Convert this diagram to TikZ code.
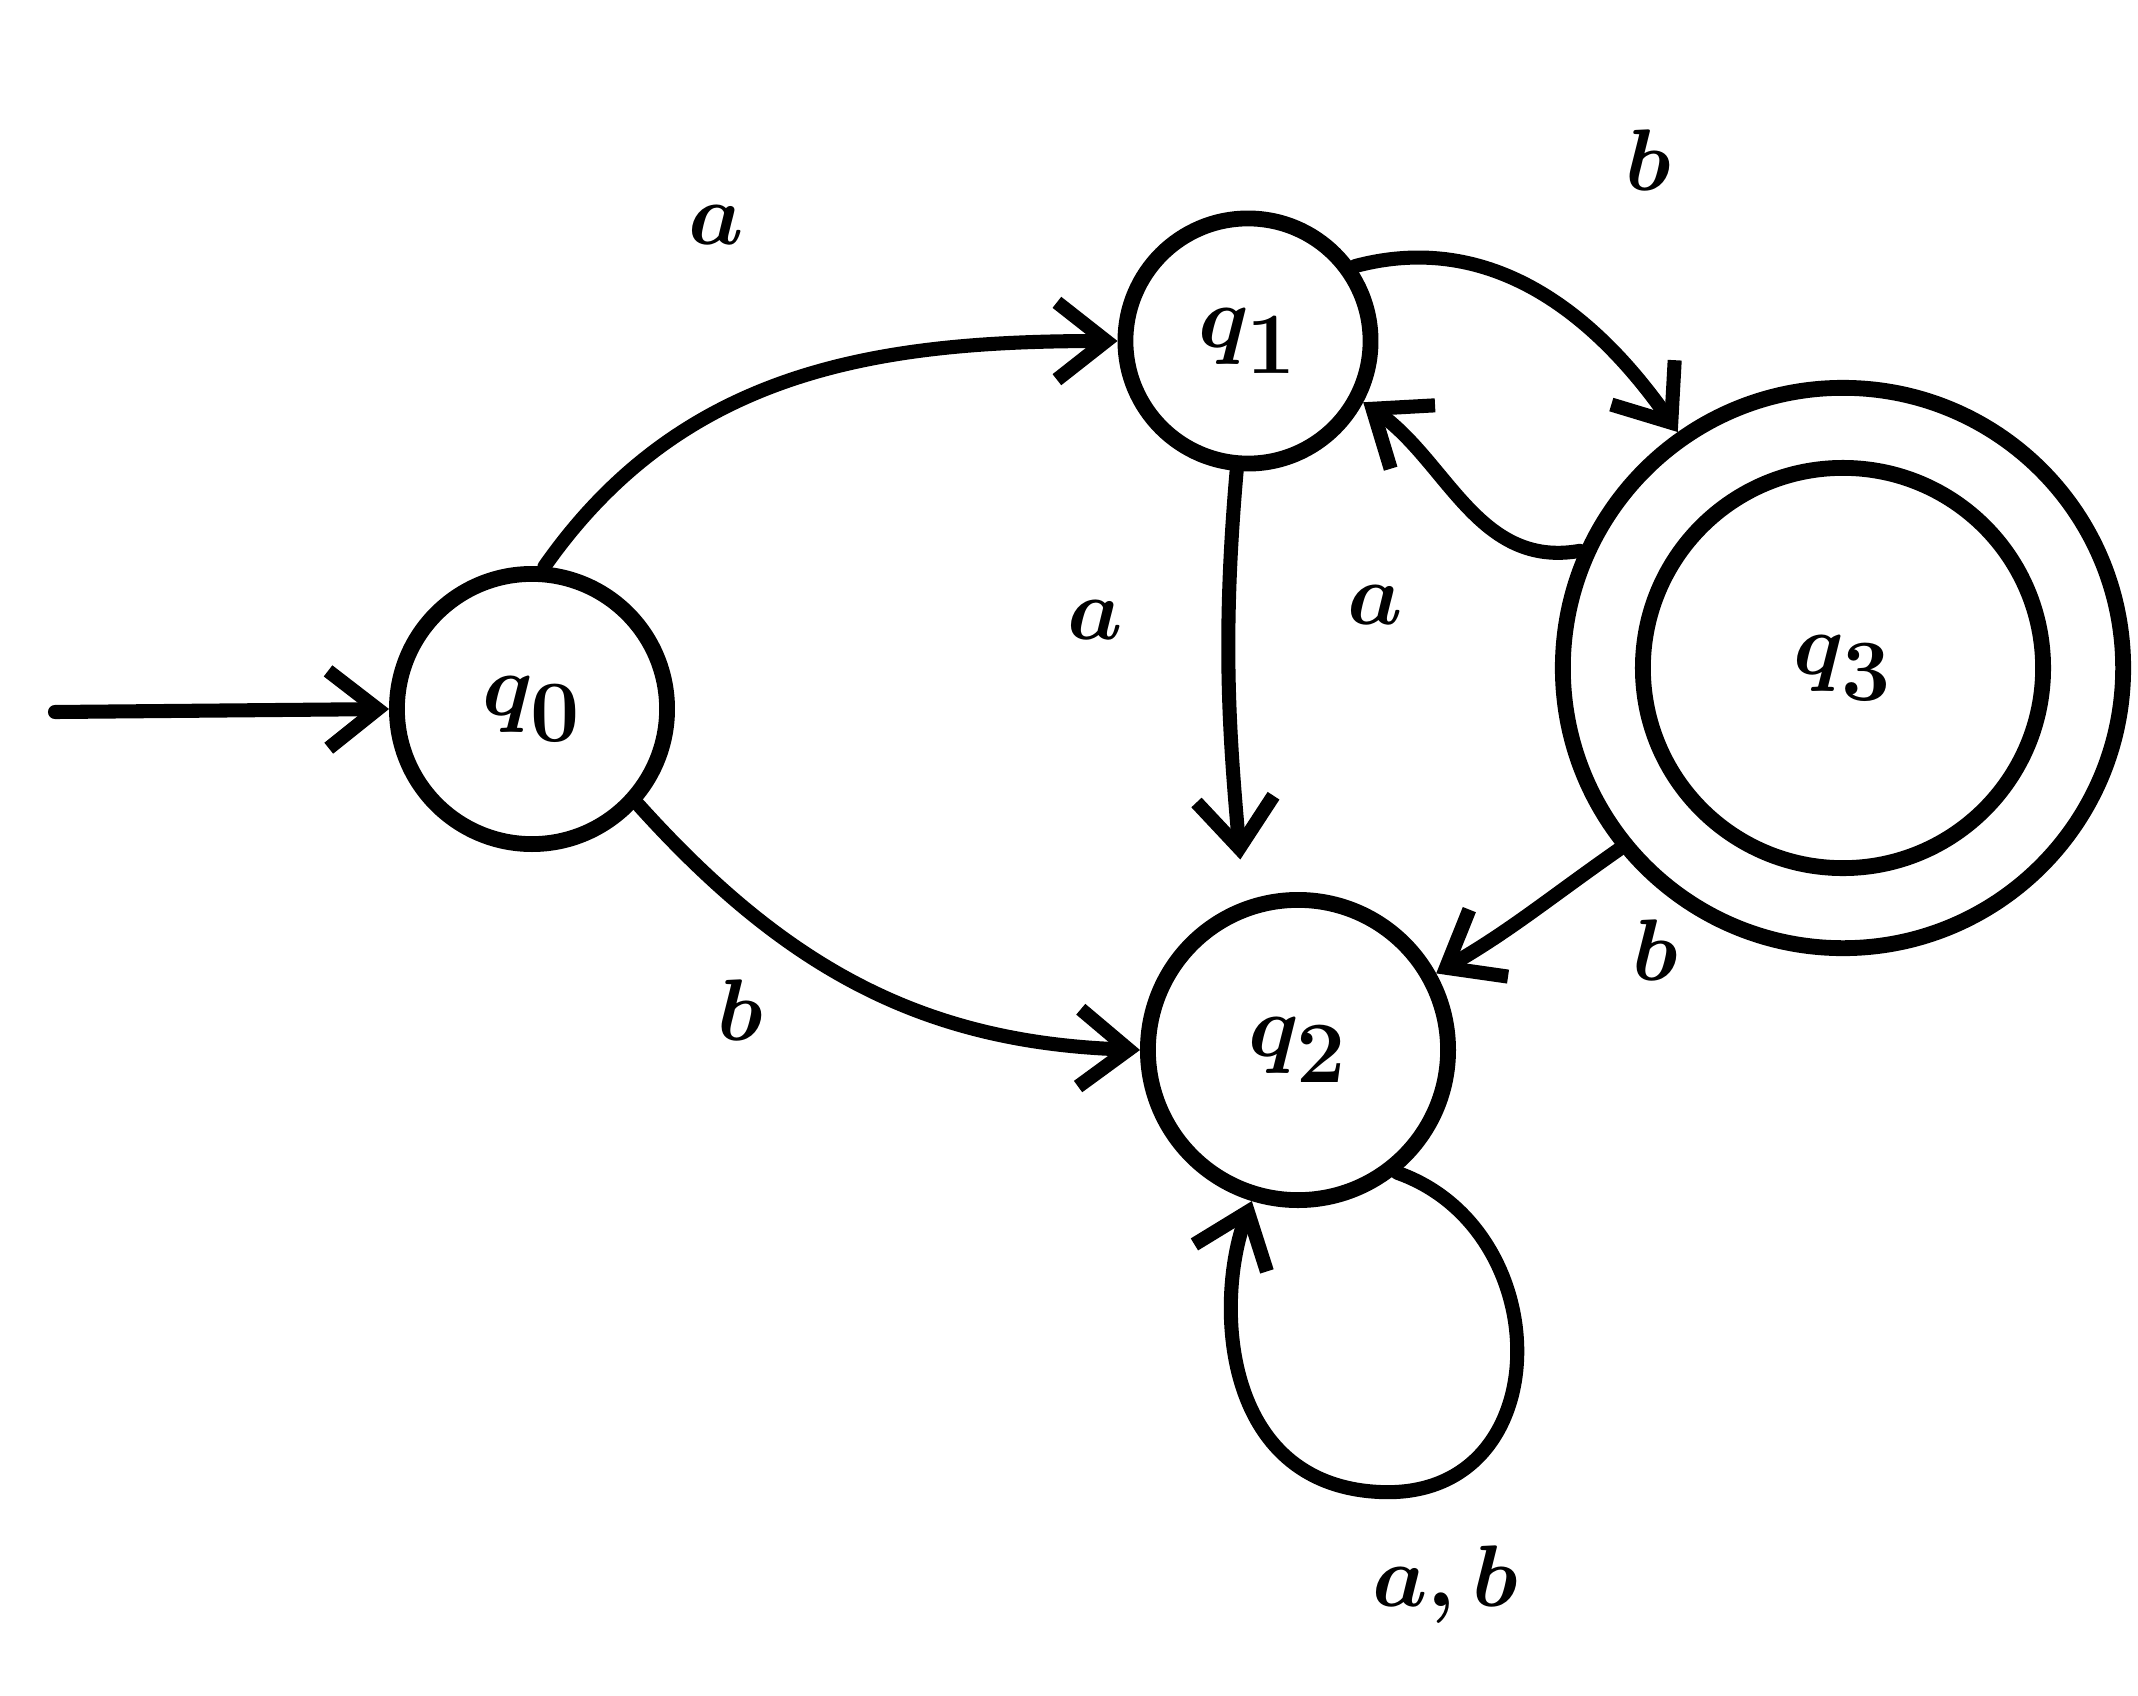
\documentclass[tikz,border=0pt]{standalone}
\usetikzlibrary{arrows.meta}
\begin{document}
\begin{tikzpicture}[x=0.01cm,y=-0.01cm,
  st/.style={draw,circle,line width=4.5pt,inner sep=0pt,font=\fontsize{64}{70}\selectfont\boldmath},
  edge/.style={line width=4pt,line cap=round,-{Straight Barb[length=14pt,width=22pt,line width=4pt]}},
  lbl/.style={font=\fontsize{62}{66}\selectfont\boldmath}]
\useasboundingbox (0,0) rectangle (2138,1696);
\node[st,minimum size=2.7cm] (q0) at (532,709) {$q_0$};
\node[st,minimum size=2.45cm] (q1) at (1248,341) {$q_1$};
\node[st,minimum size=3.0cm] (q2) at (1298,1050) {$q_2$};
\node[st,minimum size=5.6cm] (q3) at (1843,668) {};
\node[st,minimum size=4.0cm] (q3i) at (1843,668) {$q_3$};
\coordinate (s) at (55,712);
\draw[edge] (s) -- (q0.west);
\draw[edge] (q0.85) to[out=55,in=180] (q1.west);
\node[lbl] (la1) at (716,225) {$a$};
\draw[edge] (q0.-42) to[out=-48,in=178] (q2.west);
\node[lbl] (lb1) at (740,1010) {$b$};
\draw[edge] (q1.35) to[out=15,in=125] (q3.125);
\node[lbl] (lb2) at (1648,160) {$b$};
\draw[edge,shorten >=12pt] (q1.265) to[out=265,in=95] (q2.110);
\node[lbl] (la2) at (1095,620) {$a$};
\draw[edge] (q3.156) to[out=190,in=-35] (q1.-28);
\node[lbl] (la3) at (1375,605) {$a$};
\draw[edge] (q3.-141) to[out=215,in=30] (q2.29);
\node[lbl] (lb3) at (1655,950) {$b$};
\draw[edge] (q2.-51) .. controls (1560,1230) and (1560,1500) .. (1380,1492)
  .. controls (1220,1485) and (1215,1300) .. (q2.-107);
\node[lbl] (lab) at (1445,1585) {$a,b$};
\end{tikzpicture}
\end{document}
